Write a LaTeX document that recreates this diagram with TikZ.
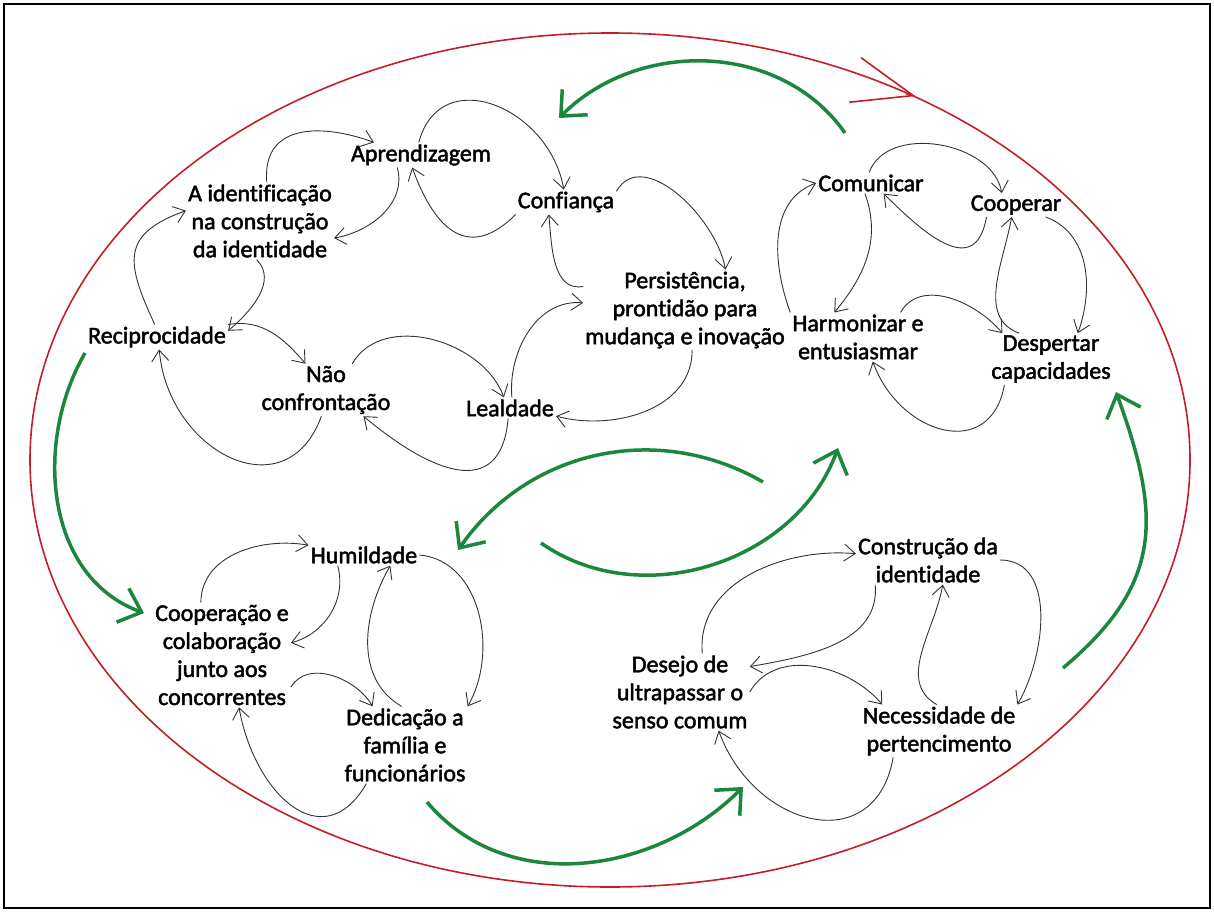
\documentclass[tikz,border=0pt]{standalone}
\usepackage{fontspec}
\setmainfont{Carlito}
\newfontfamily\lblfont{Carlito}[FakeBold=2,Ligatures=CommonOff]
\usetikzlibrary{arrows.meta,shapes.geometric}
\definecolor{leafgreen}{RGB}{26,135,60}
\definecolor{loopred}{RGB}{195,30,40}

\begin{document}
\begin{tikzpicture}[x=1pt,y=1pt,
    lbl/.style={align=center, inner sep=2pt, font=\lblfont\fontsize{24}{28}\selectfont},
    link/.style={-{Straight Barb[length=11pt,width=17pt]}, line width=0.9pt, black!80},
    flow/.style={-{Straight Barb[length=20pt,width=36pt]}, line width=3.5pt, leafgreen},
    big/.style={looseness=1.5}
]
    \useasboundingbox (0,0) rectangle (1214,-912);
    \draw[line width=1.5pt] (4,-4) rectangle (1210,-908);

    % outer loop
    \node[draw=loopred, line width=1.6pt, ellipse, minimum width=1160pt, minimum height=854pt, inner sep=0pt] (loop) at (610,-460) {};
    \path (loop.50.4) ++(165:10) coordinate (redtail);
    \draw[loopred, line width=1.6pt, -{Straight Barb[length=60pt,width=46pt]}] (redtail) -- (loop.50.4);

    % concepts
    \node[lbl] (idt) at (260,-221) {A identificação\\na construção\\da identidade};
    \node[lbl] (apr) at (421,-155) {Aprendizagem};
    \node[lbl] (conf) at (566,-202) {Confiança};
    \node[lbl] (pers) at (685,-310) {Persistência,\\prontidão para\\mudança e inovação};
    \node[lbl] (rec) at (157,-337) {Reciprocidade};
    \node[lbl] (nao) at (326,-390) {Não\\confrontação};
    \node[lbl] (leal) at (510,-408) {Lealdade};

    \node[lbl] (com) at (871,-183) {Comunicar};
    \node[lbl] (coop) at (1016,-205) {Cooperar};
    \node[lbl] (harm) at (858,-337) {Harmonizar e\\entusiasmar};
    \node[lbl] (desp) at (1051,-359) {Despertar\\capacidades};

    \node[lbl] (hum) at (364,-555) {Humildade};
    \node[lbl] (cola) at (222,-655) {Cooperação e\\colaboração\\junto aos\\concorrentes};
    \node[lbl] (dedi) at (405,-745) {Dedicação a\\família e\\funcionários};

    \node[lbl] (cons) at (928,-560) {Construção da\\identidade};
    \node[lbl] (dese) at (680,-692) {Desejo de\\ultrapassar o\\senso comum};
    \node[lbl] (nece) at (939,-731) {Necessidade de\\pertencimento};

    % top left loop
    \draw[link] (idt.80) to[out=95,in=160,looseness=1.3] (apr.165);
    \draw[link] (apr.208) to[out=-75,in=10] (idt.-13);
    \draw[link] (apr.100) to[out=75,in=100,looseness=1.4] (conf.100);
    \draw[link] (conf.south west) to[out=-135,in=-70,big] (apr.235);
    \draw[link] (conf.12) to[out=60,in=100] (pers.45);
    \draw[link] (pers.167) to[out=190,in=-85] (conf.216);
    \draw[link] (leal.80) to[out=95,in=175] (pers.176);
    \draw[link] (pers.-80) to[out=-90,in=-15] (leal.-10);
    \draw[link] (leal.260) to[out=-95,in=-40,big] (nao.-35);
    \draw[link] (nao.45) to[out=60,in=110] (leal.120);
    \draw[link] (nao.-100) to[out=-110,in=-85,big] (rec.-80);
    \draw[link] (rec.north east) to[out=10,in=130] (nao.128);
    \draw[link] (idt.-95) to[out=-45,in=40] (rec.5);
    \draw[link] (rec.100) to[out=115,in=200,looseness=1.5] (idt.172);

    % top right loop
    \draw[link] (com.100) to[out=70,in=100] (coop.140);
    \draw[link] (coop.202) to[out=-100,in=-45,big] (com.-40);
    \draw[link] (com.-120) to[out=-70,in=50] (harm.134);
    \draw[link] (harm.north west) to[out=110,in=200] (com.west);
    \draw[link] (coop.-22) to[out=-20,in=70] (desp.44);
    \draw[link] (desp.141) to[out=160,in=-100] (coop.250);
    \draw[link] (harm.30) to[out=60,in=130] (desp.152);
    \draw[link] (desp.209) to[out=-100,in=-70,big] (harm.-59);

    % bottom left loop
    \draw[link] (cola.112) to[out=90,in=170] (hum.170);
    \draw[link] (hum.202) to[out=-75,in=15] (cola.10);
    \draw[link] (cola.-25) to[out=60,in=120] (dedi.130);
    \draw[link] (dedi.95) to[out=150,in=-120] (hum.-22);
    \draw[link] (hum.east) to[out=-5,in=60] (dedi.north east);
    \draw[link] (dedi.-135) to[out=-120,in=-80,big] (cola.-72);

    % bottom right loop
    \draw[link] (dese.60) to[out=95,in=175] (cons.175);
    \draw[link] (cons.205) to[out=-85,in=10] (dese.20);
    \draw[link] (dese.east) to[out=60,in=130] (nece.155);
    \draw[link] (nece.95) to[out=150,in=-100] (cons.-59);
    \draw[link] (cons.east) to[out=0,in=60] (nece.north east);
    \draw[link] (nece.210) to[out=-100,in=-70,big] (dese.-45);

    % links between the loops
    \coordinate (g1a) at (845,-133);
    \coordinate (g1b) at (559,-118);
    \coordinate (g2a) at (85,-353);
    \coordinate (g2b) at (144,-613);
    \coordinate (g3a) at (1063,-668);
    \coordinate (g3b) at (1116,-392);
    \coordinate (g4a) at (427,-802);
    \coordinate (g4b) at (743,-787);
    \coordinate (g5a) at (763,-482);
    \coordinate (g5b) at (458,-550);
    \coordinate (g6a) at (541,-543);
    \coordinate (g6b) at (838,-448);
    \draw[flow] (g1a) to[out=125,in=45] (g1b);
    \draw[flow] (g2a) to[out=-120,in=160] (g2b);
    \draw[flow] (g3a) to[out=40,in=-70,looseness=1.2] (g3b);
    \draw[flow] (g4a) to[out=-50,in=-135] (g4b);
    \draw[flow] (g5a) to[out=150,in=55] (g5b);
    \draw[flow] (g6a) to[out=-35,in=-110] (g6b);
\end{tikzpicture}
\end{document}
